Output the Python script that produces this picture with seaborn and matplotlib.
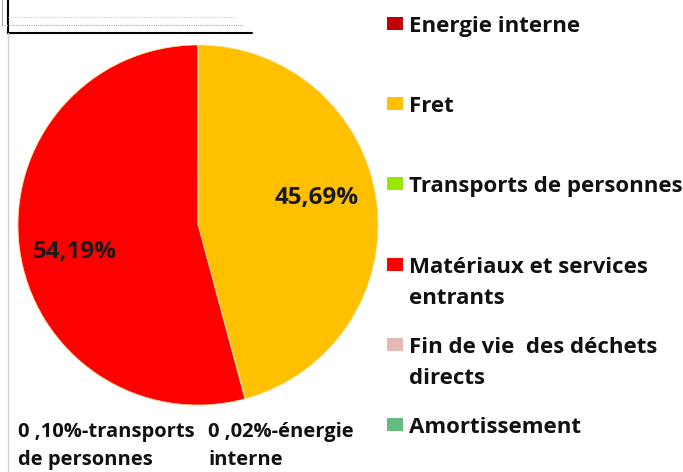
import matplotlib
matplotlib.use("Agg")
import matplotlib.pyplot as plt
import seaborn as sns
from matplotlib.lines import Line2D
from matplotlib.patches import Rectangle

categories = ["Energie interne", "Fret", "Transports de personnes",
              "Matériaux et services\nentrants", "Fin de vie  des déchets\ndirects",
              "Amortissement"]
values = [0.02, 45.69, 0.10, 54.19, 0.0, 0.0]
colors = ["#C00000", "#FFC000", "#9BE600", "#FF0000", "#E6B9B8", "#66BB7F"]
inside_labels = ["", "45,69%", "", "54,19%", "", ""]
outside_notes = ["0 ,10%-transports\nde personnes", "0 ,02%-énergie\ninterne"]

sns.set_theme(style="white")
plt.rcParams["font.family"] = ["Open Sans", "DejaVu Sans"]

W, H = 683, 472
fig = plt.figure(figsize=(W / 100, H / 100), dpi=100)
fig.patch.set_facecolor("white")

def fx(px):
    return px / W

def fy(py):
    return 1 - py / H

# pie axes: center (198,225), radius 180
ax = fig.add_axes([fx(18), fy(405), 360 / W, 360 / H])
wedges, _ = ax.pie(values, colors=colors, startangle=90, counterclock=False,
                   wedgeprops=dict(linewidth=0.5, edgecolor="#ffdd88"))
ax.set_aspect("equal")
ax.set_xlim(-1, 1)
ax.set_ylim(-1, 1)
ax.axis("off")

# inside labels
ax.text(0.658, 0.15, inside_labels[1], ha="center", va="center",
        fontsize=17.5, fontweight="bold", color="#1a1a1a")
ax.text(-0.683, -0.15, inside_labels[3], ha="center", va="center",
        fontsize=17.5, fontweight="bold", color="#1a1a1a")

def draw_lines(x, y_base, text, size, gap):
    for k, line in enumerate(text.split("\n")):
        fig.text(fx(x), fy(y_base + k * gap), line, ha="left", va="baseline",
                 fontsize=size, fontweight="bold", color="#111111")

# bottom notes
draw_lines(18, 437, outside_notes[0], 14.5, 28)
draw_lines(208, 437, outside_notes[1], 14.5, 28)

# legend, drawn manually with fixed step per entry
y0, step = 32, 80.2
for i, (lab, col) in enumerate(zip(categories, colors)):
    yb = y0 + i * step
    fig.patches.append(Rectangle((fx(387), fy(yb - 2)), 16 / W, 13 / H,
                                 transform=fig.transFigure, facecolor=col,
                                 edgecolor="none"))
    draw_lines(409, yb, lab, 16, 31)

# frame decorations at top-left
fig.lines.append(Line2D([fx(8), fx(8)], [fy(0), fy(33)], color="black", lw=1.5,
                        transform=fig.transFigure))
fig.lines.append(Line2D([fx(8), fx(252)], [fy(33), fy(33)], color="black", lw=1.5,
                        transform=fig.transFigure))
fig.lines.append(Line2D([fx(8), fx(8)], [fy(33), fy(472)], color="#d0d0d0", lw=1,
                        transform=fig.transFigure))
fig.lines.append(Line2D([fx(2), fx(243)], [fy(24.5), fy(24.5)], color="#aaaaaa", lw=0.8,
                        ls=(0, (1, 1)), transform=fig.transFigure))
fig.lines.append(Line2D([fx(8), fx(236)], [fy(16.5), fy(16.5)], color="#cccccc", lw=0.8,
                        ls=(0, (1, 1)), transform=fig.transFigure))
fig.lines.append(Line2D([fx(2), fx(2)], [fy(0), fy(24.5)], color="#aaaaaa", lw=0.8,
                        transform=fig.transFigure))

fig.savefig("out.png", dpi=100, facecolor="white")
